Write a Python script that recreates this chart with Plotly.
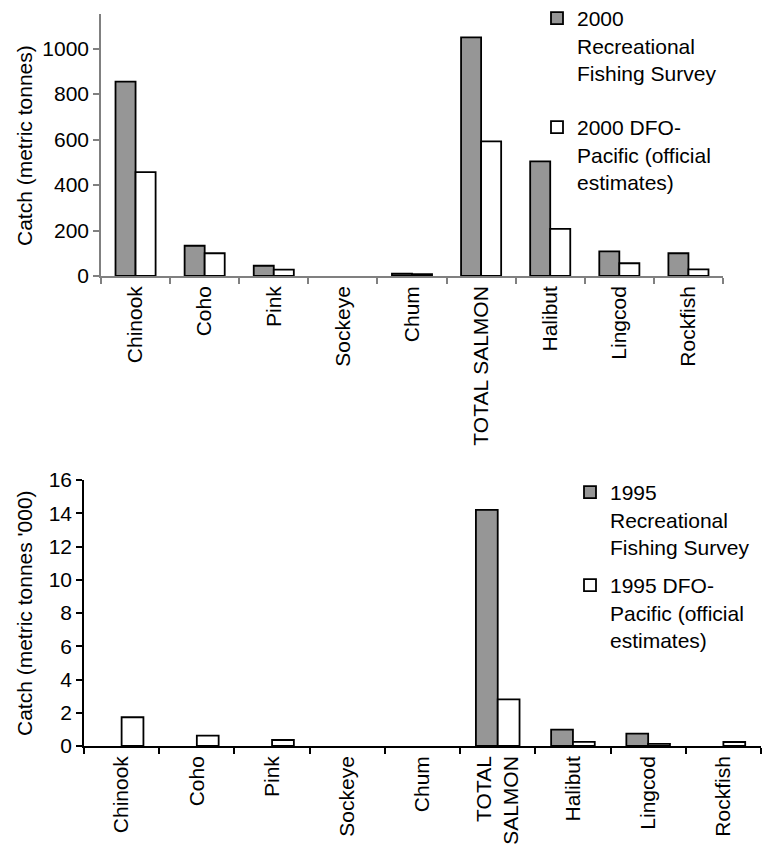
import plotly.graph_objects as go

W, H = 765, 852

categories_2000 = ["Chinook", "Coho", "Pink", "Sockeye", "Chum", "TOTAL SALMON", "Halibut", "Lingcod", "Rockfish"]
categories_1995 = ["Chinook", "Coho", "Pink", "Sockeye", "Chum", "TOTAL<br>SALMON", "Halibut", "Lingcod", "Rockfish"]

rec_2000 = [855, 133, 45, None, 10, 1049, 504, 108, 100]
dfo_2000 = [457, 100, 28, None, 8, 592, 207, 56, 29]

rec_1995 = [None, None, None, None, None, 14.2, 0.98, 0.74, None]
dfo_1995 = [1.73, 0.62, 0.36, None, None, 2.81, 0.25, 0.13, 0.24]

yticks_2000 = [0, 200, 400, 600, 800, 1000]
yticks_1995 = [0, 2, 4, 6, 8, 10, 12, 14, 16]

FONT = "Arial, Liberation Sans, sans-serif"
GRAY = "#969696"
FS = 21

fig = go.Figure()

fig.add_trace(go.Bar(
    x=categories_2000, y=rec_2000, name="2000<br>Recreational<br>Fishing Survey",
    marker=dict(color=GRAY, line=dict(color="black", width=1.8)),
    xaxis="x", yaxis="y", legend="legend", legendgroup="a"))
fig.add_trace(go.Bar(
    x=categories_2000, y=dfo_2000, name="2000 DFO-<br>Pacific (official<br>estimates)",
    marker=dict(color="white", line=dict(color="black", width=1.8)),
    xaxis="x", yaxis="y", legend="legend", legendgroup="b"))
fig.add_trace(go.Bar(
    x=categories_1995, y=rec_1995, name="1995<br>Recreational<br>Fishing Survey",
    marker=dict(color=GRAY, line=dict(color="black", width=1.8)),
    xaxis="x2", yaxis="y2", legend="legend2", legendgroup="c"))
fig.add_trace(go.Bar(
    x=categories_1995, y=dfo_1995, name="1995 DFO-<br>Pacific (official<br>estimates)",
    marker=dict(color="white", line=dict(color="black", width=1.8)),
    xaxis="x2", yaxis="y2", legend="legend2", legendgroup="d"))

def px_x(v):
    return v / W

def px_y(v):
    return 1 - v / H

axis_common = dict(showgrid=False, zeroline=False, ticks="outside", ticklen=6,
                   automargin=False,
                   tickfont=dict(family=FONT, size=FS, color="black"), fixedrange=True)

fig.update_layout(
    width=W, height=H,
    margin=dict(l=0, r=0, t=0, b=0, autoexpand=False),
    paper_bgcolor="white", plot_bgcolor="white",
    barmode="group", bargap=0.42, bargroupgap=0,
    font=dict(family=FONT, size=FS, color="black"),
    xaxis=dict(domain=[px_x(101), px_x(723)], anchor="y", tickson="boundaries",
               tickangle=-90, showline=True, linecolor="#808080", linewidth=1.5,
               tickcolor="#808080", tickwidth=1.5, **axis_common),
    yaxis=dict(domain=[px_y(276), px_y(14)], anchor="x", range=[0, 1152],
               tickvals=yticks_2000, showline=True, linecolor="#808080", linewidth=1.5,
               tickcolor="#808080", tickwidth=1.5, **axis_common),
    xaxis2=dict(domain=[px_x(84), px_x(761)], anchor="y2", tickson="boundaries",
                tickangle=-90, showline=True, linecolor="black", linewidth=1.5,
                tickcolor="black", tickwidth=1.5, **axis_common),
    yaxis2=dict(domain=[px_y(746), px_y(480)], anchor="x2", range=[0, 16],
                tickvals=yticks_1995, showline=True, linecolor="black", linewidth=1.5,
                tickcolor="black", tickwidth=1.5, **axis_common),
    legend=dict(x=px_x(537), y=px_y(-2), xanchor="left", yanchor="top",
                bgcolor="rgba(0,0,0,0)", font=dict(family=FONT, size=FS, color="black"),
                tracegroupgap=24, valign="top", itemclick=False, itemdoubleclick=False),
    legend2=dict(x=px_x(570), y=px_y(472), xanchor="left", yanchor="top",
                 bgcolor="rgba(0,0,0,0)", font=dict(family=FONT, size=FS, color="black"),
                 tracegroupgap=8, valign="top", itemclick=False, itemdoubleclick=False),
    annotations=[
        dict(text="Catch (metric tonnes)", textangle=-90, x=px_x(24), y=px_y(146),
             xref="paper", yref="paper", xanchor="center", yanchor="middle",
             showarrow=False, font=dict(family=FONT, size=FS, color="black")),
        dict(text="Catch (metric tonnes '000)", textangle=-90, x=px_x(24), y=px_y(613),
             xref="paper", yref="paper", xanchor="center", yanchor="middle",
             showarrow=False, font=dict(family=FONT, size=FS, color="black")),
    ],
)

fig.write_html("out.html", config=dict(displayModeBar=False))
